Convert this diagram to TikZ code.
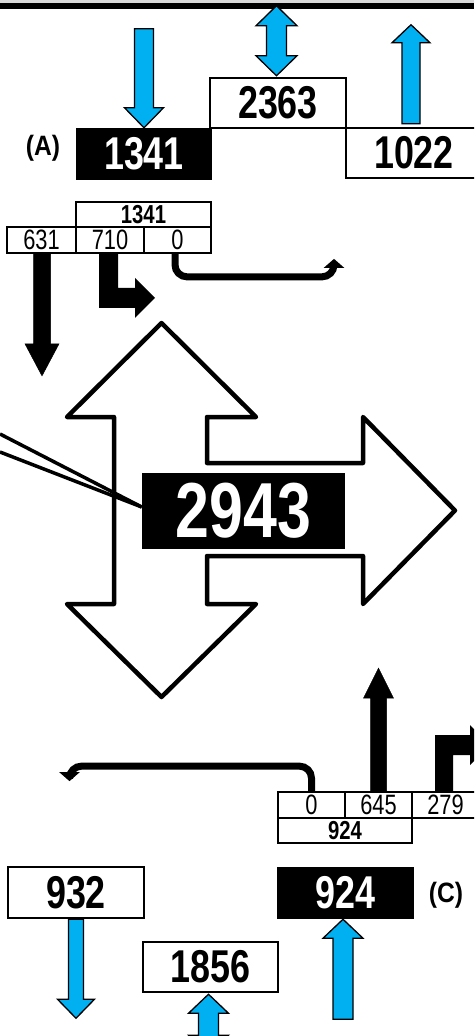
\documentclass[tikz,border=0pt]{standalone}
\usepackage{fontspec}
\newfontfamily\narf[FakeStretch=0.78]{Liberation Sans}
\newfontfamily\labf[FakeStretch=0.88]{Liberation Sans}
\usetikzlibrary{arrows.meta,calc}
\definecolor{arrblue}{HTML}{00B0F0}
\definecolor{bandgray}{HTML}{D9D9D9}
\tikzset{
 bignum/.style={font=\narf\bfseries\fontsize{46}{46}\selectfont},
 blackbox/.style={draw=black, fill=black, text=white, line width=2.5pt, inner sep=0pt, minimum height=50pt, bignum},
 whitebox/.style={draw=black, fill=white, text=black, line width=2.5pt, inner sep=0pt, minimum height=50pt, bignum},
 cell/.style={draw=black, fill=white, line width=2.2pt, inner sep=0pt, minimum height=25.5pt, font=\narf\fontsize{28}{28}\selectfont},
 headcell/.style={cell, font=\narf\bfseries\fontsize{26}{26}\selectfont},
 lab/.style={font=\labf\bfseries\fontsize{28}{28}\selectfont, inner sep=0pt},
 bluefill/.style={fill=arrblue, draw=black, line width=1.3pt, line join=miter},
 blackfill/.style={fill=black, draw=black, line width=0.5pt},
 thinarrow/.style={draw=black, line width=7pt, rounded corners=12pt, -{Triangle[width=20pt,length=9pt]}},
 crossline/.style={draw=black, fill=white, line width=4.5pt, line join=round},
 feedline/.style={draw=black, line width=3.5pt},
 pics/barrow/.style args={#1/#2/#3/#4/#5}{code={
   \path[#5] (-#2,-#1) -- (#2,-#1) -- (#2,-#4) -- (#3,-#4) -- (0,0) -- (-#3,-#4) -- (-#2,-#4) -- cycle;}},
 pics/dblarrow/.style args={#1/#2/#3/#4}{code={
   \path[bluefill] (0,0) -- (#3,-#4) -- (#2,-#4) -- (#2,{-#1+#4}) -- (#3,{-#1+#4}) -- (0,-#1) -- (-#3,{-#1+#4}) -- (-#2,{-#1+#4}) -- (-#2,-#4) -- (-#3,-#4) -- cycle;}},
}
\begin{document}
\begin{tikzpicture}[x=1pt,y=-1pt]
\useasboundingbox (0,0) rectangle (474,1036);
\clip (0,0) rectangle (474,1036);
\fill[white] (0,0) rectangle (474,1036);
\fill[bandgray] (0,0) rectangle (474,3);
\fill[black] (0,3) rectangle (474,9);

% ---- top (A) ----
\node[blackbox, minimum width=134pt] (n1341) at (144,154) {1341};
\node[whitebox, minimum width=136pt] (n2363) at (278,103) {2363};
\node[whitebox, minimum width=136pt] (n1022) at (414,153) {1022};
\node[lab] (lA) at (43,148) {(A)};

\pic at (n1341.north) {barrow={99/9.5/19.5/20/bluefill}};
\pic at ($(n2363.north)+(-1.5,-1)$) {dblarrow={70/10/20.5/20}};
\pic[rotate=180] at ($(n1022.north)+(-3,-102)$) {barrow={99/9/19/18/bluefill}};

% ---- top table ----
\node[headcell, minimum width=135pt] (t1341) at (143.5,214.5) {1341};
\node[cell, minimum width=69pt] (t631) at (41.5,240) {631};
\node[cell, minimum width=68pt] (t710) at (110,240) {710};
\node[cell, minimum width=67pt] (t0) at (177.5,240) {0};

\pic at ($(t631.south)+(0.5,122)$) {barrow={122/8.5/17/32/blackfill}};
\begin{scope}[shift={(t710.south)}]
\fill[black] (-11,0) -- (-11,54) -- (25,54) -- (25,64) -- (45,44) -- (25,24) -- (25,34) -- (8,34) -- (8,0) -- cycle;
\end{scope}
\draw[thinarrow] ([xshift=-2.5pt]t0.south) -- ++(0,23) -- ++(159,0) -- ++(0,-18);

% ---- central cross ----
\path[crossline] (161.5,323) -- (256,417) -- (207,417) -- (207,463) -- (363,463) -- (363,417) -- (455,510.5) -- (363,604) -- (363,556) -- (207,556) -- (207,604) -- (256,604) -- (161.5,697) -- (67,604) -- (114,604) -- (114,417) -- (67,417) -- cycle;
\node[blackbox, minimum width=201pt, minimum height=74pt, font=\narf\bfseries\fontsize{78}{78}\selectfont] (n2943) at (243.5,511) {2943};
\coordinate (l1) at (0,434);
\coordinate (l2) at (0,452);
\draw[feedline] (l1) -- ([yshift=4pt]n2943.west);
\draw[feedline] (l2) -- ([yshift=4pt]n2943.west);

% ---- bottom table ----
\node[cell, minimum width=67pt] (b0) at (311.5,805) {0};
\node[cell, minimum width=67pt] (b645) at (378.5,805) {645};
\node[cell, minimum width=67pt] (b279) at (445.5,805) {279};
\node[headcell, minimum width=134pt] (b924) at (345,830.5) {924};

\draw[thinarrow] (b0.north) -- ++(0,-25) -- ++(-242,0) -- ++(0,15);
\pic[rotate=180] at ($(b645.north)+(0,-123)$) {barrow={123/8/15/30/blackfill}};
\begin{scope}[shift={(b279.north)}]
\fill[black] (-10.5,0) -- (-10.5,-56) -- (24.5,-56) -- (24.5,-66) -- (44.5,-46) -- (24.5,-26) -- (24.5,-36) -- (7.5,-36) -- (7.5,0) -- cycle;
\end{scope}

% ---- bottom (C) ----
\node[whitebox, minimum width=136pt, minimum height=51pt] (n932) at (76,892.5) {932};
\node[whitebox, minimum width=135pt] (n1856) at (210.5,967) {1856};
\node[blackbox, minimum width=135pt] (n924) at (345.5,893) {924};
\node[lab] (lC) at (446,895) {(C)};

\pic at ($(n932.south)+(0,99)$) {barrow={99/7.5/18.5/19/bluefill}};
\pic[rotate=180] at ($(n1856.south)+(-2,1)$) {dblarrow={60/10/20/19}};
\pic[rotate=180] at ($(n924.south)+(-2.5,0)$) {barrow={100/10/20/19/bluefill}};
\end{tikzpicture}
\end{document}
